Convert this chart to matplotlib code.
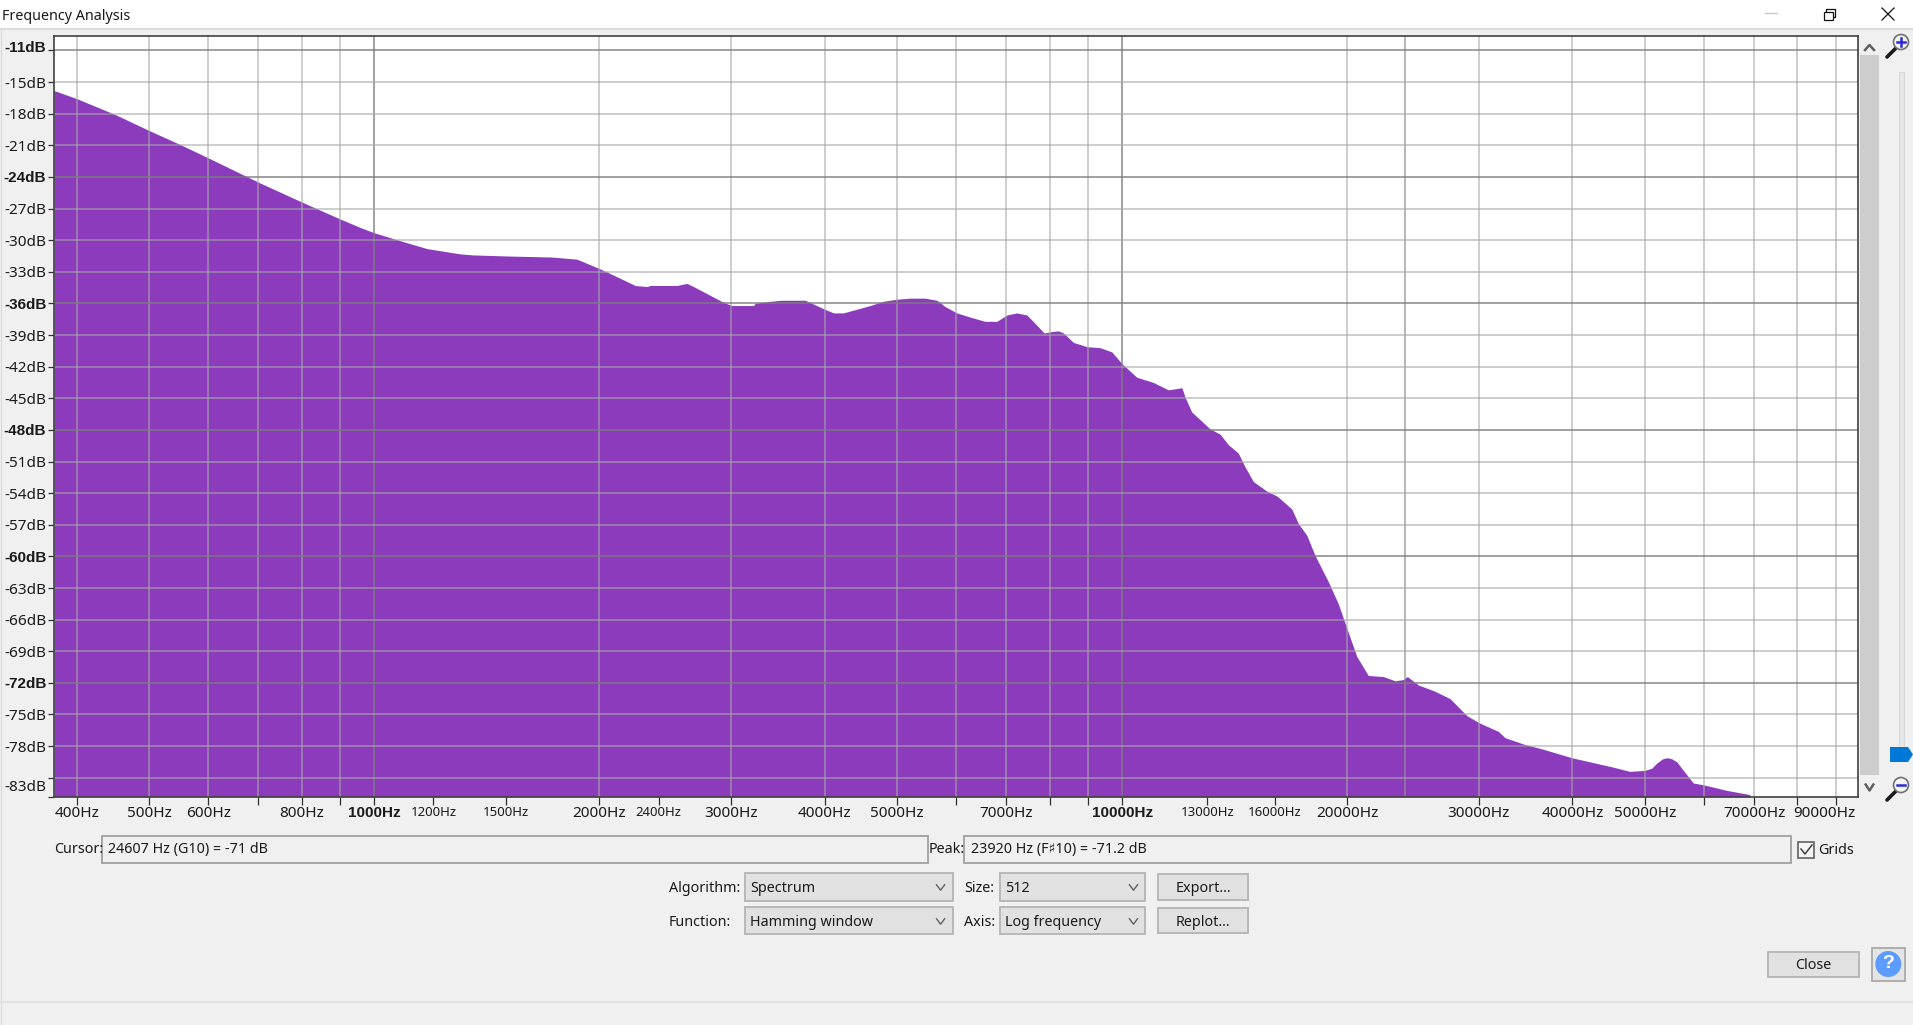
import matplotlib
matplotlib.use('Agg')
import matplotlib.pyplot as plt
from matplotlib.patches import Rectangle, Circle, Polygon
from matplotlib.transforms import ScaledTranslation

plt.rcParams['font.family'] = ['Noto Sans', 'DejaVu Sans']

W, H = 1913, 1025

# ---- data ----
freq_hz = [373, 401, 451, 500, 553, 600, 700, 801,
           901, 958, 1000, 1089, 1176, 1303, 1356, 1505,
           1728, 1866, 2001, 2087, 2233, 2315, 2339, 2539,
           2618, 2672, 2931, 3008, 3214, 3231, 3384, 3497,
           3769, 3987, 4112, 4240, 4604, 4792, 4998, 5207,
           5453, 5653, 5799, 6012, 6263, 6559, 6800, 7012,
           7231, 7458, 7651, 7865, 8012, 8219, 8347, 8608,
           8970, 9345, 9688, 9991, 10460, 11010, 11530, 12020,
           12140, 12390, 13110, 13520, 13870, 14300, 14600, 14980,
           15610, 16130, 16430, 16860, 17210, 17660, 18110, 18870,
           19460, 19970, 20600, 21340, 22350, 23170, 23730, 24070,
           24900, 26210, 27450, 28900, 30040, 31850, 32510, 34400,
           36580, 39920, 45380, 47770, 50030, 51070, 51900, 52830,
           53530, 54310, 55200, 56010, 58050, 60170, 64330, 69110]
level_db = [-15.8, -16.6, -18.1, -19.6, -21.0, -22.2, -24.5, -26.4,
            -28.0, -28.8, -29.3, -30.1, -30.8, -31.3, -31.4, -31.5,
            -31.6, -31.8, -32.7, -33.3, -34.3, -34.4, -34.3, -34.3,
            -34.1, -34.4, -35.9, -36.2, -36.2, -36.0, -35.8, -35.7,
            -35.7, -36.5, -36.9, -36.9, -36.2, -35.8, -35.6, -35.5,
            -35.5, -35.7, -36.3, -36.9, -37.3, -37.7, -37.7, -37.1,
            -36.9, -37.1, -37.9, -38.8, -38.7, -38.6, -38.8, -39.7,
            -40.1, -40.2, -40.6, -41.7, -43.0, -43.5, -44.2, -44.0,
            -44.9, -46.3, -47.9, -48.4, -49.4, -50.2, -51.5, -52.9,
            -53.8, -54.3, -54.8, -55.5, -56.9, -58.0, -59.9, -62.4,
            -64.5, -66.8, -69.5, -71.3, -71.4, -71.8, -71.7, -71.4,
            -72.2, -72.8, -73.5, -75.1, -75.8, -76.6, -77.2, -77.8,
            -78.3, -79.1, -80.0, -80.4, -80.3, -80.1, -79.6, -79.2,
            -79.1, -79.2, -79.5, -80.1, -81.5, -81.7, -82.2, -82.6]

x_range = [373, 96400]
y_range = [-82.8, -10.6]

x_ticks = [400, 500, 600, 700, 800, 900, 1000, 1200, 1500, 2000, 2400, 3000, 4000,
           5000, 6000, 7000, 8000, 9000, 10000, 13000, 16000, 20000, 30000, 40000,
           50000, 60000, 70000, 80000, 90000]
x_labels = ['400Hz', '500Hz', '600Hz', '', '800Hz', '', '1000Hz', '1200Hz', '1500Hz',
            '2000Hz', '2400Hz', '3000Hz', '4000Hz', '5000Hz', '', '7000Hz', '', '',
            '10000Hz', '13000Hz', '16000Hz', '20000Hz', '30000Hz', '40000Hz', '50000Hz',
            '', '70000Hz', '', '90000Hz']
x_small_labels = [1200, 1500, 2400, 13000, 16000]
x_bold_labels = [1000, 10000]
x_dark_grid = [1000, 10000]
x_plain_grid = [400, 500, 600, 700, 800, 900, 2000, 3000, 4000, 5000, 6000, 7000, 8000,
                9000, 20000, 30000, 40000, 50000, 60000, 70000, 80000, 90000]
peak_hz = 23920

y_ticks = [-12, -15, -18, -21, -24, -27, -30, -33, -36, -39, -42, -45, -48, -51, -54,
           -57, -60, -63, -66, -69, -72, -75, -78, -81]
y_dark_grid = [-12, -24, -36, -48, -60, -72]
y_end_labels = {-12: '-11dB', -81: '-83dB'}

PURPLE = '#8b3bbb'
TXT = '#1a1a1a'
FS = 11
UI_FS = 10.3
BOLD = dict(fontweight='bold', family='Liberation Sans')
# -------------------------------------

fig = plt.figure(figsize=(W / 100, H / 100), dpi=100, facecolor='#f0f0f0')

# window chrome, in pixel coordinates
ui = fig.add_axes([0, 0, 1, 1], zorder=0)
ui.set_xlim(0, W)
ui.set_ylim(H, 0)
ui.axis('off')


def rect(x0, y0, x1, y1, fc, ec='none', lw=1.1, z=1):
    ui.add_patch(Rectangle((x0, y0), x1 - x0, y1 - y0, fc=fc, ec=ec, lw=lw, zorder=z))


def label(x, y, s, ha='left', size=UI_FS, **kw):
    ui.text(x, y + 1.3, s, ha=ha, va='center', fontsize=size, color=TXT, **kw)


def chevron(cx, cy, w, h, color='#606060', lw=1.5):
    ui.plot([cx - w, cx, cx + w], [cy - h, cy + h, cy - h], color=color, lw=lw,
            solid_capstyle='butt', zorder=3)


rect(0, 0, W, 28, '#ffffff')
ui.plot([0, W], [29, 29], color='#dcdcdc', lw=1.4)
ui.plot([0.5, 0.5], [29, H], color='#d8d8d8', lw=0.8)
ui.plot([0, W], [1001.7, 1001.7], color='#e0e0e0', lw=1.2)
label(2, 15.5, 'Frequency Analysis', size=10.3)

# title-bar buttons
ui.plot([1765, 1777], [13, 13], color='#c8c8c8', lw=1)
rect(1823.5, 11.5, 1832.5, 19.5, 'white', '#111111', 0.9, 3)
ui.plot([1826, 1826, 1834.5, 1834.5, 1832.5], [11.5, 8.5, 8.5, 17, 17], color='#111111', lw=0.9, zorder=2)
ui.plot([1882, 1894], [8, 20], color='#111111', lw=0.9)
ui.plot([1882, 1894], [20, 8], color='#111111', lw=0.9)

# scrollbar
rect(1860, 55, 1878.5, 775, '#cdcdcd')
ui.plot([1865, 1869.5, 1874], [50, 45, 50], color='#606060', lw=1.8)
chevron(1869.5, 787, 4.5, 3.5, lw=1.8)

# vertical slider
rect(1899, 72, 1904, 748, '#e8e8e8', '#d8d8d8', 0.8)
ui.add_patch(Polygon([(1890, 747), (1908, 747), (1913, 754.5), (1908, 762), (1890, 762)],
                     fc='#0078d7', ec='none', zorder=3))


def magnifier(cx, cy, plus):
    ui.plot([cx - 4, cx - 14], [cy + 5, cy + 15], color='#1a1a1a', lw=2.6, zorder=3,
            solid_capstyle='round')
    ui.add_patch(Circle((cx, cy), 7.5, fc='#f4f4f4', ec='#707070', lw=1.2, zorder=4))
    ui.plot([cx - 4, cx + 4], [cy, cy], color='#2a2ad0', lw=1.8, zorder=5)
    if plus:
        ui.plot([cx, cx], [cy - 4, cy + 4], color='#2a2ad0', lw=1.8, zorder=5)


magnifier(1901, 42, True)
magnifier(1901, 785, False)

# read-outs
BOX = '#a0a0a0'
label(54, 848, 'Cursor:')
rect(102, 836, 928, 863, '#f0f0f0', BOX, 1.3)
label(108.5, 848, '24607 Hz (G10) = -71 dB')
label(929, 848, 'Peak:')
rect(964, 836, 1790.5, 863, '#f0f0f0', BOX, 1.3)
label(971, 848, '23920 Hz (F♯10) = -71.2 dB')
rect(1798, 842, 1814, 857.5, '#f4f4f4', '#606060', 1.2)
ui.plot([1801, 1805, 1812], [849, 854, 845], color='#404040', lw=1.1, zorder=3)
label(1818, 849, 'Grids')

# combo boxes and buttons
CF, CE = '#e1e1e1', '#b4b4b4'
for y0, y1, yt, name, val, name2, val2, btn in [
        (873, 900.5, 886.7, 'Algorithm:', 'Spectrum', 'Size:', '512', 'Export...'),
        (907, 934.3, 920.7, 'Function:', 'Hamming window', 'Axis:', 'Log frequency', 'Replot...')]:
    label(669, yt, name)
    rect(745, y0, 952.7, y1, CF, CE, 1.3)
    label(750, yt, val)
    chevron(940.6, yt + 0.5, 4.5, 3, lw=1)
    label(964, yt, name2)
    rect(1000.4, y0, 1144.6, y1, CF, CE, 1.3)
    label(1005, yt, val2)
    chevron(1133.5, yt + 0.5, 4.5, 3, lw=1)
    rect(1158, y0 + 1, 1248, y1 - 1, CF, CE, 1.3)
    label(1203, yt, btn, ha='center')

rect(1768, 952, 1858.5, 977, CF, CE, 1.3)
label(1813, 964, 'Close', ha='center')
rect(1872, 948, 1905, 981, '#e4e4e4', '#aaaaaa', 1.3)
ui.add_patch(Circle((1888.3, 964), 13, fc='#5c9bff', ec='none', zorder=3))
ui.text(1888.3, 964, '?', ha='center', va='center', color='white', fontsize=14,
        fontweight='bold', family='Liberation Sans', zorder=4)

# the spectrum plot
ax = fig.add_axes([54 / W, 1 - 796.7 / H, 1804 / W, 761 / H], zorder=2, facecolor='white')
ax.set_xscale('log')
ax.set_xlim(x_range)
ax.set_ylim(y_range)
ax.fill_between(freq_hz, y_range[0], level_db, color=PURPLE, lw=0, zorder=1)

PLAIN = dict(color='#a8a8a8', alpha=0.62, lw=1.3, zorder=2)
DARK = dict(color='#7c7c7c', alpha=0.78, lw=1.3, zorder=2)
for f in x_plain_grid:
    ax.axvline(f, **PLAIN)
for f in x_dark_grid:
    ax.axvline(f, **DARK)
ax.axvline(peak_hz, color='#909090', alpha=0.7, lw=1.3, zorder=2)
for v in y_ticks:
    ax.axhline(v, **(DARK if v in y_dark_grid else PLAIN))

ax.xaxis.set_minor_locator(plt.NullLocator())
ax.set_xticks(x_ticks)
ax.set_xticklabels(x_labels)
ax.xaxis.set_minor_formatter(plt.NullFormatter())
ax.tick_params(axis='x', length=5.5, width=0.9, color='#303030', pad=1.5)
for f, t in zip(x_ticks, ax.get_xticklabels()):
    t.set_fontsize(9.5 if f in x_small_labels else FS)
    t.set_color(TXT)
    if f in x_bold_labels:
        t.set(**BOLD)
    if f == x_ticks[-1]:
        # the last label is pushed left so it stays inside the plot's right edge
        t.set_transform(t.get_transform() + ScaledTranslation(-11 / 100, 0, fig.dpi_scale_trans))

ax.set_yticks(y_ticks + [y_range[0]])
ax.set_yticklabels(['' if v in y_end_labels else f'{v}dB' for v in y_ticks] + [''])
for v, t in zip(y_ticks, ax.get_yticklabels()):
    t.set_fontsize(FS)
    t.set_color(TXT)
    if v in y_dark_grid:
        t.set(**BOLD)
ax.tick_params(axis='y', length=4.5, width=0.9, color='#303030', pad=1)
ax.annotate(y_end_labels[-12], xy=(0, -12), xycoords=('axes fraction', 'data'),
            xytext=(-5.5, 1.8), textcoords='offset points', ha='right', va='center',
            fontsize=FS, color=TXT, annotation_clip=False, **BOLD)
ax.annotate(y_end_labels[-81], xy=(0, -81), xycoords=('axes fraction', 'data'),
            xytext=(-5.5, -7.3), textcoords='offset points', ha='right', va='center',
            fontsize=FS, color=TXT, annotation_clip=False)
for s in ax.spines.values():
    s.set_color('#404040')
    s.set_linewidth(1.2)
    s.set_zorder(5)

fig.savefig('out.png', dpi=100, facecolor=fig.get_facecolor())
